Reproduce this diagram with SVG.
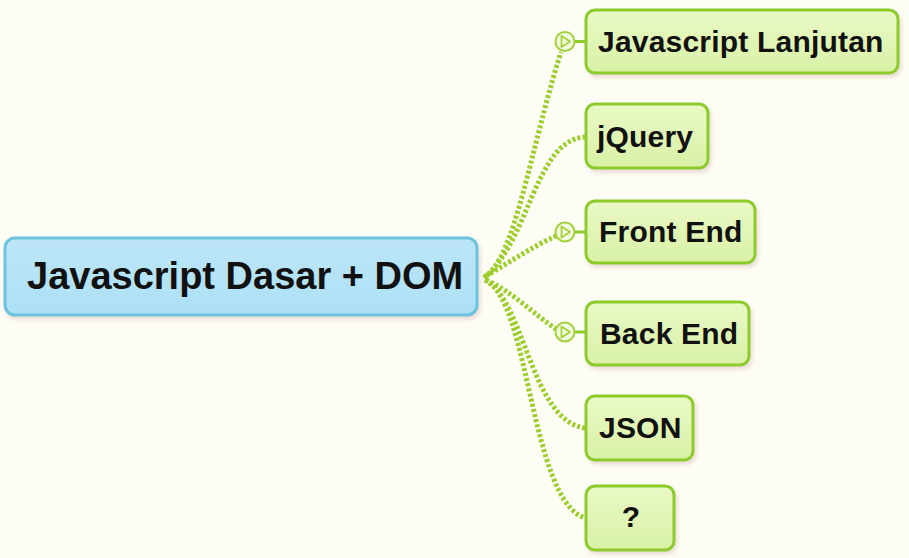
<svg xmlns="http://www.w3.org/2000/svg" width="909" height="558" viewBox="0 0 909 558">
<defs>
<linearGradient id="gGreen" x1="0" y1="0" x2="0" y2="1">
<stop offset="0" stop-color="#eaf9c6"/>
<stop offset="1" stop-color="#d8f1a6"/>
</linearGradient>
<linearGradient id="gBlue" x1="0" y1="0" x2="0" y2="1">
<stop offset="0" stop-color="#bde6f8"/>
<stop offset="1" stop-color="#ade0f5"/>
</linearGradient>
<filter id="sh" x="-10%" y="-10%" width="120%" height="130%">
<feDropShadow dx="2" dy="3" stdDeviation="2" flood-color="#c8a090" flood-opacity="0.35"/>
</filter>
</defs>
<style>
.bg{fill:#fdfdf6}
.child{fill:url(#gGreen);stroke:#8ccb2c;stroke-width:3;filter:url(#sh)}
.root{fill:url(#gBlue);stroke:#6cc3df;stroke-width:3;filter:url(#sh)}
.t{font-family:"Liberation Sans",Arial,sans-serif;font-weight:bold;fill:#111}
.ct{font-size:30px;letter-spacing:0.2px}
.rt{font-size:38px}
.conn{fill:none;stroke:#9dcd2e;stroke-width:5;stroke-dasharray:3 2.2}
.nub{stroke:#8ccb2c;stroke-width:3}
.circ{fill:#f3fae4;stroke:#a3d13a;stroke-width:2}
.tri{fill:none;stroke:#a3d13a;stroke-width:1.8;stroke-linejoin:round}
</style>
<rect class="bg" x="0" y="0" width="909" height="558"/>
<g id="connectors">
<path class="conn" d="M484,277 C515,260 530,150 561,52"/>
<path class="conn" d="M484,278 C530,240 535,140 585,137"/>
<path class="conn" d="M486,276 C510,262 535,245 556,236"/>
<path class="conn" d="M486,280 C510,290 535,315 556,329"/>
<path class="conn" d="M485,280 C525,300 530,420 585,428"/>
<path class="conn" d="M485,280 C530,300 530,500 585,518"/>
</g>
<g id="root">
<rect class="root" x="5" y="238" width="472" height="77" rx="10"/>
<text class="t rt" x="27" y="289">Javascript Dasar + DOM</text>
</g>
<g id="node-javascript-lanjutan">
<line class="nub" x1="575" y1="41.5" x2="587" y2="41.5"/>
<circle class="circ" cx="565" cy="41.5" r="9.5"/>
<path class="tri" d="M561.5,36 L570,41.5 L561.5,47 Z"/>
<rect class="child" x="586" y="10" width="312" height="63" rx="9"/>
<text class="t ct" x="598" y="52">Javascript Lanjutan</text>
</g>
<g id="node-jquery">
<rect class="child" x="586" y="104" width="122" height="64" rx="9"/>
<text class="t ct" x="597" y="147">jQuery</text>
</g>
<g id="node-front-end">
<line class="nub" x1="575" y1="232" x2="587" y2="232"/>
<circle class="circ" cx="565" cy="232" r="9.5"/>
<path class="tri" d="M561.5,226.5 L570,232 L561.5,237.5 Z"/>
<rect class="child" x="586" y="201" width="169" height="62" rx="9"/>
<text class="t ct" x="599" y="242">Front End</text>
</g>
<g id="node-back-end">
<line class="nub" x1="575" y1="332" x2="587" y2="332"/>
<circle class="circ" cx="565" cy="332" r="9.5"/>
<path class="tri" d="M561.5,326.5 L570,332 L561.5,337.5 Z"/>
<rect class="child" x="586" y="302" width="163" height="63" rx="9"/>
<text class="t ct" x="600" y="344">Back End</text>
</g>
<g id="node-json">
<rect class="child" x="586" y="396" width="107" height="64" rx="9"/>
<text class="t ct" x="599" y="438">JSON</text>
</g>
<g id="node-question">
<rect class="child" x="586" y="486" width="88" height="64" rx="9"/>
<text class="t ct" x="631" y="527" text-anchor="middle">?</text>
</g>
</svg>
